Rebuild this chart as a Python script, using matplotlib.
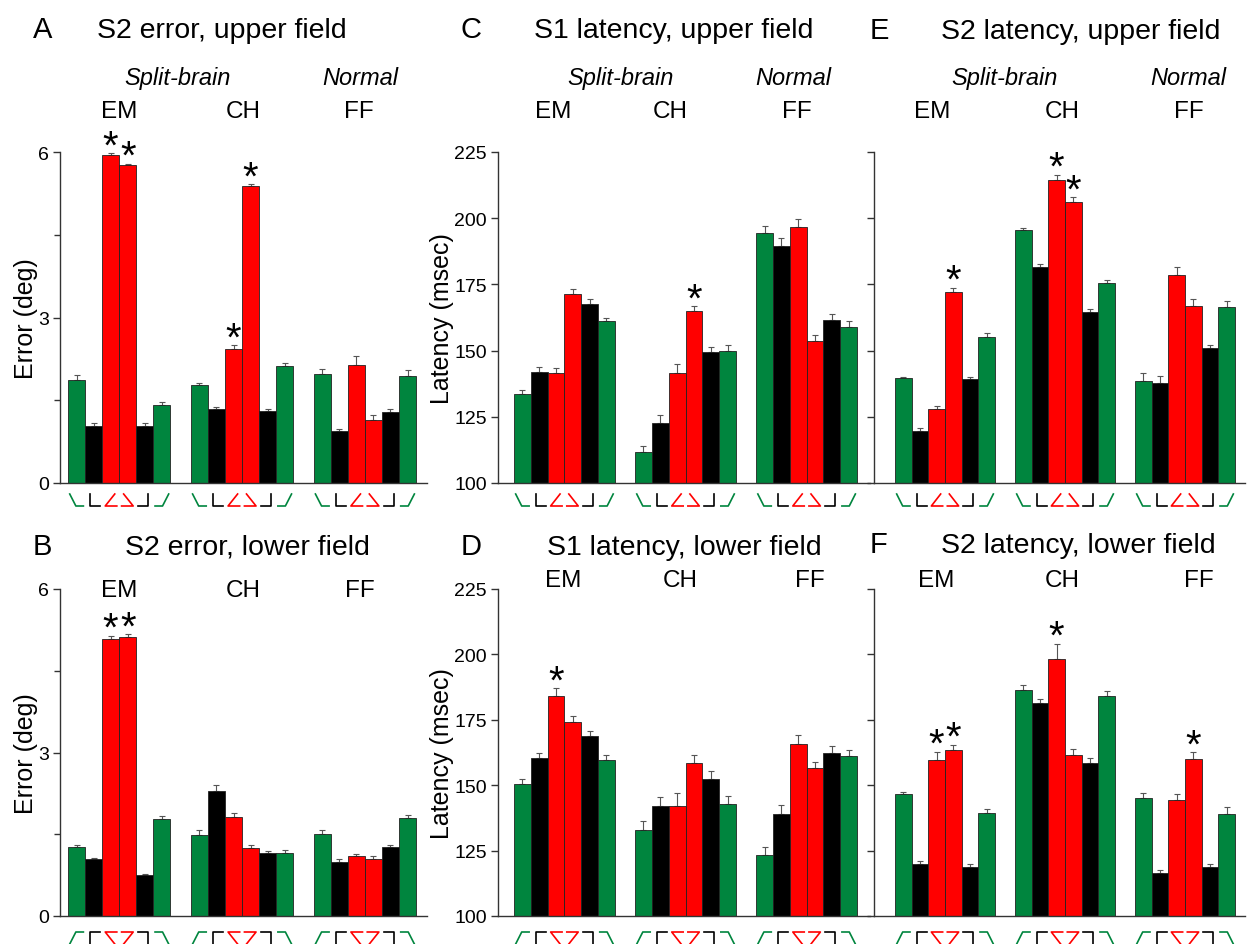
import matplotlib
matplotlib.use("Agg")
import matplotlib.pyplot as plt
import numpy as np
from matplotlib.transforms import blended_transform_factory

plt.rcParams['font.family'] = ['Liberation Sans', 'DejaVu Sans']

# bar order inside each group: green, black, red, red, black, green
groups = ["EM", "CH", "FF"]
bar_colors = ["#00853e", "#000000", "#ff0000", "#ff0000", "#000000", "#00853e"]

# A: S2 error, upper field (deg)
a_mean = [[1.87, 1.04, 5.95, 5.76, 1.04, 1.41],
          [1.78, 1.35, 2.43, 5.38, 1.30, 2.12],
          [1.97, 0.95, 2.13, 1.15, 1.28, 1.94]]
a_err = [[0.08, 0.04, 0.03, 0.03, 0.04, 0.05],
         [0.04, 0.03, 0.07, 0.04, 0.04, 0.06],
         [0.10, 0.03, 0.17, 0.08, 0.06, 0.11]]
a_stars = [(0, 2), (0, 3), (1, 2), (1, 3)]

# B: S2 error, lower field (deg)
b_mean = [[1.27, 1.05, 5.09, 5.12, 0.75, 1.78],
          [1.49, 2.30, 1.81, 1.24, 1.16, 1.16],
          [1.51, 0.99, 1.10, 1.05, 1.26, 1.79]]
b_err = [[0.03, 0.02, 0.05, 0.05, 0.02, 0.05],
         [0.08, 0.10, 0.08, 0.07, 0.04, 0.05],
         [0.06, 0.05, 0.04, 0.06, 0.04, 0.06]]
b_stars = [(0, 2), (0, 3)]

# C: S1 latency, upper field (msec)
c_mean = [[133.6, 142.1, 141.7, 171.3, 167.5, 161.2],
          [111.6, 122.6, 141.5, 164.8, 149.5, 149.7],
          [194.3, 189.6, 196.8, 153.8, 161.4, 158.9]]
c_err = [[1.5, 1.8, 1.8, 2.0, 2.0, 1.3],
         [2.5, 3.0, 3.5, 2.0, 2.0, 2.5],
         [2.8, 3.0, 3.0, 2.2, 2.4, 2.4]]
c_stars = [(1, 3)]

# D: S1 latency, lower field (msec)
d_mean = [[150.4, 160.3, 184.1, 174.2, 168.9, 159.8],
          [132.7, 141.9, 141.9, 158.6, 152.4, 143.0],
          [123.3, 139.0, 165.8, 156.5, 162.5, 161.1]]
d_err = [[1.8, 2.2, 3.0, 2.3, 2.0, 1.8],
         [3.5, 3.5, 5.0, 3.0, 3.0, 3.0],
         [3.0, 3.5, 3.5, 2.5, 2.5, 2.5]]
d_stars = [(0, 2)]

# E: S2 latency, upper field (msec)
e_mean = [[139.6, 119.8, 128.1, 172.3, 139.2, 155.3],
          [195.4, 181.4, 214.5, 206.2, 164.6, 175.6],
          [138.6, 137.8, 178.5, 166.8, 150.8, 166.3]]
e_err = [[0.5, 0.8, 0.8, 1.5, 0.8, 1.2],
         [0.8, 1.2, 2.0, 1.8, 1.0, 1.0],
         [3.0, 2.5, 3.0, 2.5, 1.5, 2.5]]
e_stars = [(0, 3), (1, 2), (1, 3)]

# F: S2 latency, lower field (msec)
f_mean = [[146.6, 119.9, 159.8, 163.4, 118.9, 139.5],
          [186.4, 181.4, 198.1, 161.7, 158.4, 184.1],
          [145.2, 116.5, 144.5, 160.1, 118.8, 139.0]]
f_err = [[0.8, 1.0, 3.0, 2.0, 1.0, 1.5],
         [1.8, 1.5, 6.0, 2.3, 2.0, 1.8],
         [2.0, 1.0, 2.2, 2.5, 1.0, 2.5]]
f_stars = [(0, 2), (0, 3), (1, 2), (2, 3)]

W, H = 1248, 945
fig = plt.figure(figsize=(W / 100, H / 100), dpi=100)


def px_axes(left, top, right, bottom):
    return fig.add_axes([left / W, 1 - bottom / H, (right - left) / W, (bottom - top) / H])


def ftext(x, y, s, **kw):
    fig.text(x / W, 1 - y / H, s, **kw)


# little angle glyphs under each bar (upper field version, unit box)
glyphs = [[(0.0, 1), (0.45, 0), (1.0, 0)],
          [(0.25, 1), (0.25, 0), (1.0, 0)],
          [(0.8, 1), (0.1, 0), (0.95, 0)],
          [(0.2, 1), (0.9, 0), (0.05, 0)],
          [(0.75, 1), (0.75, 0), (0.0, 0)],
          [(1.0, 1), (0.55, 0), (0.0, 0)]]

spacing = 7.2


def draw_panel(ax, mean, err, stars, base, top, xlim, lower):
    mean = np.array(mean)
    err = np.array(err)
    for g in range(3):
        x = g * spacing + np.arange(6)
        ax.bar(x, mean[g] - base, bottom=base, width=1.0, color=bar_colors,
               edgecolor="#222222", linewidth=0.6, zorder=2)
        ax.errorbar(x, mean[g], yerr=[np.zeros(6), err[g]], fmt="none",
                    ecolor="#555555", elinewidth=0.8, capsize=2.5, capthick=0.8, zorder=1)
    for g, i in stars:
        x = g * spacing + i
        ax.annotate("*", xy=(x, mean[g][i] + err[g][i]), xytext=(0, -3),
                    textcoords="offset points", ha="center", va="baseline",
                    fontsize=29, annotation_clip=False)
    ax.set_xlim(*xlim)
    ax.set_ylim(base, top)
    for s in ["top", "right"]:
        ax.spines[s].set_visible(False)
    for s in ["left", "bottom"]:
        ax.spines[s].set_color("#333333")
        ax.spines[s].set_linewidth(1.0)
    ax.set_xticks([])
    ax.tick_params(axis="y", direction="out", length=5, width=1, labelsize=14,
                   pad=3, color="#333333")
    # glyphs
    tr = blended_transform_factory(ax.transData, ax.transAxes)
    hpx = ax.get_position().height * H
    y_hi = -(16 if lower else 11) / hpx
    y_lo = y_hi - 12 / hpx
    for g in range(3):
        for i in range(6):
            c = g * spacing + i
            xs = [c + (u - 0.5) * 0.8 for u, v in glyphs[i]]
            if lower:
                ys = [y_lo + (1 - v) * (y_hi - y_lo) for u, v in glyphs[i]]
            else:
                ys = [y_lo + v * (y_hi - y_lo) for u, v in glyphs[i]]
            ax.plot(xs, ys, color=bar_colors[i], lw=1.2, transform=tr, clip_on=False)


top_row = (153, 484)
bot_row = (590, 917)
cols = [(60, 427, (-0.97, 20.54)), (498, 870, (-1.45, 20.67)), (874, 1245, (-1.76, 20.5))]

axA = px_axes(cols[0][0], top_row[0], cols[0][1], top_row[1])
axB = px_axes(cols[0][0], bot_row[0], cols[0][1], bot_row[1])
axC = px_axes(cols[1][0], top_row[0], cols[1][1], top_row[1])
axD = px_axes(cols[1][0], bot_row[0], cols[1][1], bot_row[1])
axE = px_axes(cols[2][0], top_row[0], cols[2][1], top_row[1])
axF = px_axes(cols[2][0], bot_row[0], cols[2][1], bot_row[1])

draw_panel(axA, a_mean, a_err, a_stars, 0, 6, cols[0][2], False)
draw_panel(axB, b_mean, b_err, b_stars, 0, 6, cols[0][2], True)
draw_panel(axC, c_mean, c_err, c_stars, 100, 225, cols[1][2], False)
draw_panel(axD, d_mean, d_err, d_stars, 100, 225, cols[1][2], True)
draw_panel(axE, e_mean, e_err, e_stars, 100, 225, cols[2][2], False)
draw_panel(axF, f_mean, f_err, f_stars, 100, 225, cols[2][2], True)

for ax in (axA, axB):
    ax.set_yticks([0, 3, 6])
    ax.set_yticks([1.5, 4.5], minor=True)
    ax.tick_params(axis="y", which="minor", length=4, width=1, color="#333333")
    ax.set_ylabel("Error (deg)", fontsize=18, labelpad=0)
for ax in (axC, axD):
    ax.set_yticks([100, 125, 150, 175, 200, 225])
    ax.set_ylabel("Latency (msec)", fontsize=18, labelpad=0)
for ax in (axE, axF):
    ax.set_yticks([100, 125, 150, 175, 200, 225])
    ax.set_yticklabels([])

# panel letters and titles
letters = [("A", 43, 38), ("C", 471, 38), ("E", 879, 39),
           ("B", 42, 555), ("D", 471, 555), ("F", 878, 553)]
for s, x, y in letters:
    ftext(x, y, s, fontsize=21, ha="center", va="baseline")
titles = [("S2 error, upper field", 222, 38), ("S1 latency, upper field", 674, 38),
          ("S2 latency, upper field", 1081, 39), ("S2 error, lower field", 247, 555),
          ("S1 latency, lower field", 684, 555), ("S2 latency, lower field", 1078, 553)]
for s, x, y in titles:
    ftext(x, y, s, fontsize=20.5, ha="center", va="baseline")

# group headings
for sx, nx in [(178, 360), (621, 793), (1005, 1188)]:
    ftext(sx, 85, "Split-brain", fontsize=17, style="italic", ha="center", va="baseline")
    ftext(nx, 85, "Normal", fontsize=17, style="italic", ha="center", va="baseline")
group_x = [[119, 243, 359], [553, 670, 797], [932, 1062, 1189],
           [119, 243, 360], [563, 680, 810], [936, 1062, 1199]]
group_y = [118, 118, 118, 597, 587, 587]
for xs, y in zip(group_x, group_y):
    for name, x in zip(groups, xs):
        ftext(x, y, name, fontsize=17.5, ha="center", va="baseline")

fig.savefig("out.png", dpi=100)
